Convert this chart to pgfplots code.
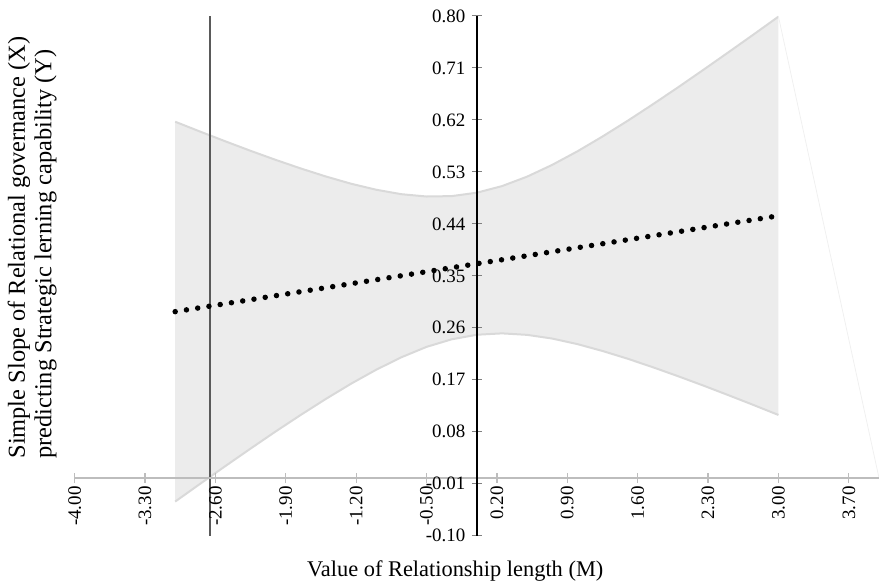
\documentclass[border=0pt]{standalone}
\usepackage{pgfplots}
\pgfplotsset{compat=1.18}
\usepackage{fontspec}
\setmainfont{Liberation Serif}
\definecolor{bandfill}{HTML}{ECECEC}
\definecolor{bandedge}{HTML}{D9D9D9}
\definecolor{xaxisgray}{HTML}{BDBDBD}
\definecolor{jnline}{HTML}{5A5A5A}

% simple slope and its confidence band
\pgfplotstableread{
x      lo       mid     hi
-3.00 -0.0409  0.2880  0.6169
-2.75 -0.0099  0.2949  0.5997
-2.50  0.0207  0.3018  0.5829
-2.25  0.0509  0.3087  0.5665
-2.00  0.0806  0.3157  0.5508
-1.75  0.1093  0.3226  0.5359
-1.50  0.1370  0.3295  0.5220
-1.25  0.1633  0.3364  0.5095
-1.00  0.1875  0.3433  0.4991
-0.75  0.2090  0.3502  0.4914
-0.50  0.2270  0.3572  0.4874
-0.25  0.2401  0.3641  0.4881
 0.00  0.2480  0.3710  0.4940
 0.25  0.2504  0.3779  0.5054
 0.50  0.2478  0.3848  0.5218
 0.75  0.2414  0.3918  0.5422
 1.00  0.2318  0.3987  0.5656
 1.25  0.2199  0.4056  0.5913
 1.50  0.2065  0.4125  0.6185
 1.75  0.1918  0.4194  0.6470
 2.00  0.1763  0.4263  0.6763
 2.25  0.1602  0.4333  0.7064
 2.50  0.1435  0.4402  0.7369
 2.75  0.1265  0.4471  0.7677
 3.00  0.1091  0.4540  0.7989
}\slopes

\begin{document}
\begin{tikzpicture}
\begin{axis}[
    scale only axis, width=804.8bp, height=520bp,
    xmin=-4, xmax=4, ymin=-0.1, ymax=0.8,
    axis lines=middle, axis on top, clip=false,
    axis line style={-},
    x axis line style={draw=xaxisgray, line width=1.3bp},
    y axis line style={draw=black, line width=2bp},
    hide obscured x ticks=false, hide obscured y ticks=false,
    tick align=center, major tick length=10bp,
    xtick={-4,-3.3,-2.6,-1.9,-1.2,-0.5,0.2,0.9,1.6,2.3,3.0,3.7},
    xticklabels={-4.00,-3.30,-2.60,-1.90,-1.20,-0.50,0.20,0.90,1.60,2.30,3.00,3.70},
    ytick={-0.1,-0.01,0.08,0.17,0.26,0.35,0.44,0.53,0.62,0.71,0.8},
    yticklabels={-0.10,-0.01,0.08,0.17,0.26,0.35,0.44,0.53,0.62,0.71,0.80},
    x tick style={draw=xaxisgray, line width=1.2bp},
    y tick style={draw=gray, line width=1bp},
    xticklabel style={rotate=90, anchor=east, font=\fontsize{19}{20}\selectfont},
    yticklabel style={anchor=east, font=\fontsize{19}{20}\selectfont, xshift=-3bp},
    every axis x label/.style={at={(rel axis cs:0.4732,-0.0782)}, anchor=base,
        inner sep=0pt, font=\fontsize{22.5}{26}\selectfont},
    every axis y label/.style={at={(rel axis cs:-0.0835,0.1481)}, rotate=90,
        anchor=north west, align=left, inner sep=0pt, font=\fontsize{24.5}{26.5}\selectfont},
    xlabel={Value of Relationship length (M)},
    ylabel={Simple Slope of Relational governance (X)\\predicting Strategic lerning capability (Y)},
]
\addplot[fill=bandfill, draw=none] coordinates {
    (-3.00,0.6169) (-2.50,0.5829) (-2.00,0.5508) (-1.50,0.5220) (-1.00,0.4991)
    (-0.75,0.4914) (-0.50,0.4874) (-0.25,0.4881) (0.00,0.4940) (0.25,0.5054)
    (0.50,0.5218) (0.75,0.5422) (1.00,0.5656) (1.50,0.6185) (2.00,0.6763)
    (2.50,0.7369) (3.00,0.7989)
    (3.00,0.1091) (2.50,0.1435) (2.00,0.1763) (1.50,0.2065) (1.00,0.2318)
    (0.75,0.2414) (0.50,0.2478) (0.25,0.2504) (0.00,0.2480) (-0.25,0.2401)
    (-0.50,0.2270) (-0.75,0.2090) (-1.00,0.1875) (-1.50,0.1370) (-2.00,0.0806)
    (-2.50,0.0207) (-3.00,-0.0409)
} -- cycle;
\addplot[draw=bandedge, line width=2bp] table[x=x, y=hi] {\slopes};
\addplot[draw=bandedge, line width=2bp] table[x=x, y=lo] {\slopes};
% faint closing stroke on the right
\addplot[draw=black!6, line width=0.8bp] coordinates {(3,0.7989) (4,0)};
% vertical reference line
\addplot[draw=jnline, line width=1.3bp] coordinates {(-2.655,-0.1) (-2.655,0.8)};
% simple slope, dotted
\addplot[draw=black, line width=5.5bp, line cap=round, dash pattern=on 0pt off 11.4bp]
    table[x=x, y=mid] {\slopes};
\coordinate (bbll) at (axis cs:-4.7425,-0.1848);
\coordinate (bbur) at (axis cs:4.0,0.8277);
\end{axis}
\pgfresetboundingbox
\useasboundingbox (bbll) rectangle (bbur);
\end{tikzpicture}
\end{document}
